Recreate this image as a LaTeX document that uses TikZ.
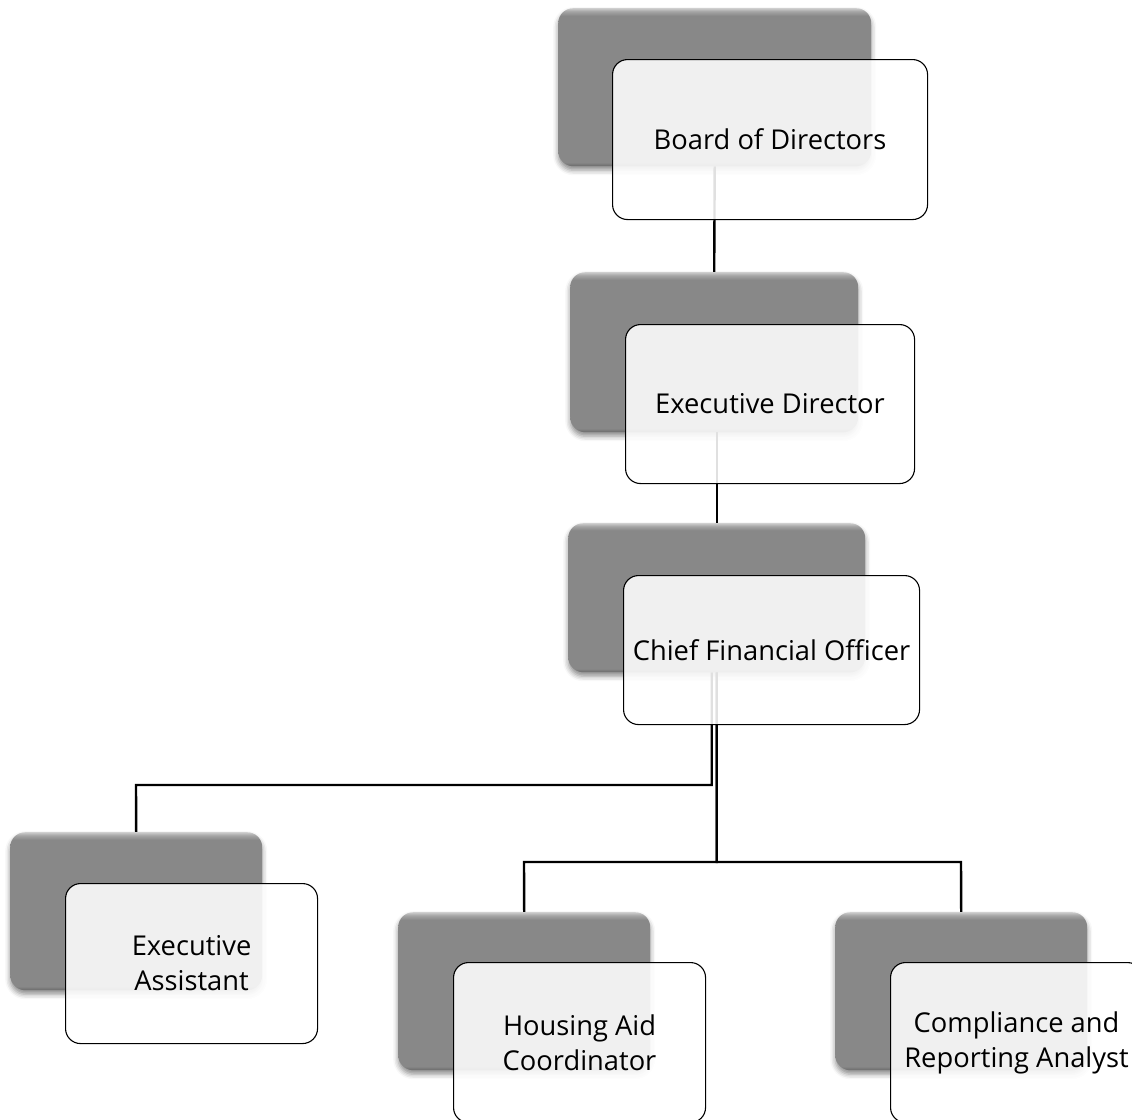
\documentclass[tikz,border=0pt]{standalone}
\usepackage{fontspec}
\setmainfont{Open Sans}
\usetikzlibrary{shadows.blur,backgrounds}
\definecolor{gbot}{RGB}{105,105,105}
\definecolor{gbase}{RGB}{136,136,136}
\definecolor{gmid}{RGB}{165,165,165}
\definecolor{gtop}{RGB}{205,205,205}
\pgfdeclareverticalshading{graybevel}{100bp}{color(0bp)=(gbot); color(25bp)=(gbot); color(26.2bp)=(gbase); color(72.6bp)=(gbase); color(74bp)=(gmid); color(75bp)=(gtop); color(100bp)=(gtop)}
\tikzset{
  backbox/.style={rectangle, rounded corners=15pt, anchor=north west, inner sep=0pt,
    shading=graybevel, draw=none,
    blur shadow={shadow xshift=0pt, shadow yshift=-4pt, shadow blur radius=5pt, shadow opacity=45}},
  frontbox/.style={rectangle, rounded corners=15pt, anchor=north west, inner sep=0pt,
    fill=white, fill opacity=0.88, text opacity=1, draw=black, line width=1.1pt,
    align=center, font=\fontsize{27.3}{35}\selectfont},
  conn/.style={draw=black, line width=2.4pt}
}
\begin{document}
\begin{tikzpicture}[x=1pt,y=-1pt]
\useasboundingbox (0,0) rectangle (1132,1119);
\clip (0,0) rectangle (1132,1119);
\coordinate (j1) at (136,785);
\coordinate (j2) at (524,862);
\coordinate (j3) at (961,862);
% back boxes
\path (558,8) node[backbox, minimum width=313pt, minimum height=158pt] (g1) {};
\path (570,272) node[backbox, minimum width=288pt, minimum height=160pt] (g2) {};
\path (568,523) node[backbox, minimum width=297pt, minimum height=149pt] (g3) {};
\path (10,832) node[backbox, minimum width=252pt, minimum height=158pt] (g4) {};
\path (398,912) node[backbox, minimum width=252pt, minimum height=158pt] (g5) {};
\path (835,912) node[backbox, minimum width=252pt, minimum height=158pt] (g6) {};
% front boxes
\path (612,59) node[frontbox, minimum width=315pt, minimum height=160pt] (w1) {Board of Directors};
\path (625,324) node[frontbox, minimum width=289pt, minimum height=159pt] (w2) {Executive Director};
\path (623,575) node[frontbox, minimum width=296pt, minimum height=149pt] (w3) {Chief Financial Officer};
\path (65,883) node[frontbox, minimum width=252pt, minimum height=160pt] (w4) {Executive\\Assistant};
\path (453,962) node[frontbox, minimum width=252pt, minimum height=160pt] (w5) {Housing Aid\\Coordinator};
\path (890,962) node[frontbox, minimum width=252pt, minimum height=160pt] (w6) {Compliance and\\Reporting Analyst};
% connectors behind
\begin{pgfonlayer}{background}
\draw[conn] (g1.south) -- (g2.north);
\draw[conn] (g3.north) -- (g3.north |- g2.south);
\draw[conn] ([xshift=-5pt]g3.south) |- (j1) -- (g4.north);
\draw[conn] (g3.south) |- (j2) -- (g5.north);
\draw[conn] (g3.south) |- (j3) -- (g6.north);
\end{pgfonlayer}
\end{tikzpicture}
\end{document}
